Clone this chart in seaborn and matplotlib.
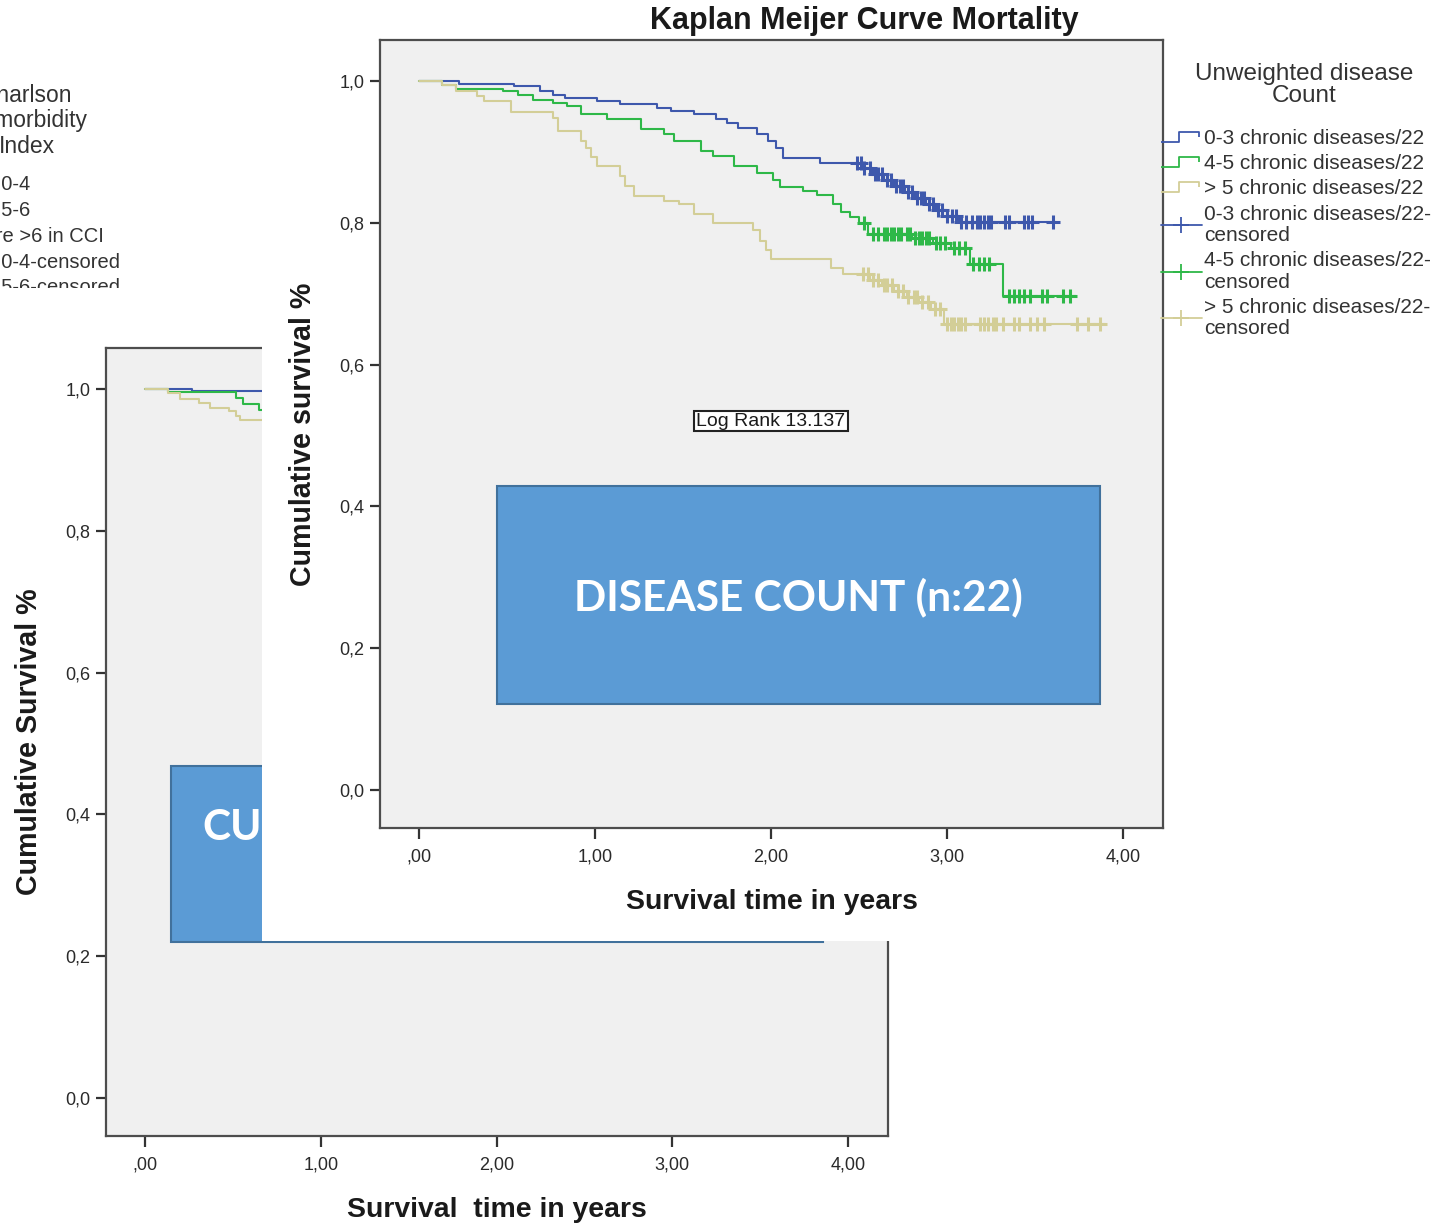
import numpy as np
import matplotlib
matplotlib.use("Agg")
import matplotlib.pyplot as plt
import seaborn as sns
from matplotlib.patches import Rectangle
from matplotlib.lines import Line2D
from matplotlib.path import Path

# ---- data ----
# front chart: Kaplan-Meier by unweighted disease count
blue_t = [0, 0.23, 0.54, 0.69, 0.76, 0.83, 1.01, 1.14, 1.35, 1.43, 1.56, 1.69, 1.75, 1.81, 1.92,
          1.98, 2.03, 2.07, 2.28, 2.52, 2.58, 2.64, 2.70, 2.76, 2.82, 2.88, 2.94, 3.00, 3.07]
blue_s = [1.0, 0.996, 0.993, 0.986, 0.981, 0.976, 0.972, 0.968, 0.962, 0.958, 0.953, 0.947, 0.941, 0.934, 0.925,
          0.915, 0.906, 0.892, 0.884, 0.877, 0.869, 0.861, 0.852, 0.843, 0.835, 0.826, 0.818, 0.810, 0.801]
blue_end = 3.62
blue_cens = [2.49, 2.51, 2.53, 2.56, 2.59, 2.61, 2.63, 2.66, 2.68, 2.71, 2.73, 2.75, 2.78, 2.80, 2.83,
             2.85, 2.87, 2.90, 2.92, 2.95, 2.97, 3.00, 3.03, 3.05, 3.08, 3.11, 3.14, 3.17, 3.19, 3.21,
             3.23, 3.25, 3.33, 3.35, 3.44, 3.46, 3.48, 3.60]

green_t = [0, 0.13, 0.21, 0.48, 0.56, 0.65, 0.76, 0.84, 0.92, 1.07, 1.26, 1.39, 1.45, 1.60, 1.67,
           1.79, 1.92, 2.01, 2.05, 2.18, 2.26, 2.35, 2.40, 2.45, 2.50, 2.55, 2.80, 2.92, 3.02, 3.13, 3.32]
green_s = [1.0, 0.995, 0.989, 0.986, 0.981, 0.974, 0.969, 0.965, 0.953, 0.946, 0.932, 0.925, 0.915, 0.901, 0.894,
           0.880, 0.871, 0.860, 0.850, 0.845, 0.840, 0.826, 0.816, 0.808, 0.800, 0.784, 0.778, 0.771, 0.764, 0.742, 0.697]
green_end = 3.73
green_cens = [2.53, 2.58, 2.61, 2.64, 2.66, 2.68, 2.70, 2.72, 2.74, 2.77, 2.79, 2.82, 2.84, 2.86, 2.88,
              2.90, 2.94, 2.96, 2.99, 3.04, 3.07, 3.10, 3.15, 3.18, 3.21, 3.24, 3.35, 3.38, 3.41, 3.44,
              3.47, 3.54, 3.57, 3.66, 3.70]

tan_t = [0, 0.13, 0.21, 0.33, 0.37, 0.52, 0.76, 0.79, 0.92, 0.95, 0.98, 1.01, 1.14, 1.17, 1.22,
         1.39, 1.48, 1.56, 1.67, 1.90, 1.94, 1.97, 2.00, 2.34, 2.41, 2.56, 2.63, 2.70, 2.77, 2.84, 2.91, 2.98]
tan_s = [1.0, 0.995, 0.986, 0.979, 0.972, 0.957, 0.948, 0.930, 0.915, 0.905, 0.893, 0.880, 0.866, 0.852, 0.838,
         0.831, 0.826, 0.812, 0.800, 0.790, 0.775, 0.762, 0.749, 0.737, 0.728, 0.720, 0.712, 0.704, 0.696, 0.688,
         0.678, 0.657]
tan_end = 3.90
tan_cens = [2.52, 2.55, 2.58, 2.61, 2.64, 2.66, 2.69, 2.72, 2.75, 2.78, 2.81, 2.83, 2.86, 2.89, 2.93,
            2.96, 3.00, 3.02, 3.04, 3.06, 3.08, 3.10, 3.19, 3.21, 3.23, 3.26, 3.28, 3.32, 3.38, 3.41,
            3.47, 3.51, 3.55, 3.74, 3.80, 3.87]

# back chart (Charlson index), only its first stretch is visible
cci_blue_t = [0, 0.27]
cci_blue_s = [1.0, 0.997]
cci_green_t = [0, 0.13, 0.52, 0.56, 0.65]
cci_green_s = [1.0, 0.996, 0.987, 0.979, 0.970]
cci_tan_t = [0, 0.13, 0.20, 0.31, 0.37, 0.48, 0.52, 0.54]
cci_tan_s = [1.0, 0.995, 0.986, 0.981, 0.974, 0.969, 0.962, 0.957]
cci_end = 0.75

legend_title = "Unweighted disease\nCount"
legend_labels = ["0-3 chronic diseases/22", "4-5 chronic diseases/22", "> 5 chronic diseases/22",
                 "0-3 chronic diseases/22-\ncensored", "4-5 chronic diseases/22-\ncensored",
                 "> 5 chronic diseases/22-\ncensored"]
cci_legend_title = "Charlson\nComorbidity\nIndex"
cci_legend_labels = ["CCI 0-4", "CCI 5-6", "Score >6 in CCI", "CCI 0-4-censored", "CCI 5-6-censored"]

x_ticks = [0, 1, 2, 3, 4]
x_ticklabels = [",00", "1,00", "2,00", "3,00", "4,00"]
y_ticks = [0, 0.2, 0.4, 0.6, 0.8, 1.0]
y_ticklabels = ["0,0", "0,2", "0,4", "0,6", "0,8", "1,0"]

colors = ["#3E58AC", "#2EB848", "#D3CE97"]

# ---- layout helpers (pixels of the 1449x1223 picture) ----
W, H = 1449, 1223


def fbox(l, t, r, b):
    return [l / W, 1 - b / H, (r - l) / W, (b - t) / H]


def fxy(x, y):
    return (x / W, 1 - y / H)


sns.set_style("ticks")
plt.rcParams['font.family'] = ['Liberation Sans', 'DejaVu Sans']

fig = plt.figure(figsize=(W / 100, H / 100), dpi=100)
fig.patch.set_facecolor("white")


def km(ax, t, s, end, cens, color, lw=1.5):
    xs = list(t) + [end]
    ys = list(s) + [s[-1]]
    sns.lineplot(x=xs, y=ys, drawstyle="steps-post", color=color, lw=lw, ax=ax,
                 sort=False, estimator=None)
    if cens:
        idx = np.searchsorted(t, cens, side="right") - 1
        cy = np.array(s)[idx]
        sns.scatterplot(x=cens, y=cy, marker="+", s=110, linewidth=2.2, color=color, ax=ax, zorder=4)


def style_axes(ax, ylabel, xlabel):
    ax.set_facecolor("#F0F0F0")
    ax.set_xlim(-0.2216, 4.227)
    ax.set_ylim(-0.0536, 1.058)
    ax.set_xticks(x_ticks, x_ticklabels)
    ax.set_yticks(y_ticks, y_ticklabels)
    for sp in ax.spines.values():
        sp.set_visible(True)
        sp.set_color("#4d4d4d")
        sp.set_linewidth(1.6)
    ax.tick_params(direction="out", bottom=True, left=True, length=7, width=1.6, color="#333333",
                   labelsize=13, labelcolor="#2a2a2a")
    ax.tick_params(axis="x", length=8, pad=7)
    ax.tick_params(axis="y", pad=4)
    ax.set_xlabel(xlabel, fontsize=20.4, fontweight="bold", color="#1a1a1a")
    ax.set_ylabel(ylabel, fontsize=20.6, fontweight="bold", color="#1a1a1a")
    ax.xaxis.set_label_coords(0.5, -0.077)
    ax.yaxis.set_label_coords(-0.081, 0.5)


# ---- back chart ----
ax0 = fig.add_axes(fbox(106, 348, 888, 1136), zorder=1)
km(ax0, cci_blue_t, cci_blue_s, cci_end, None, colors[0])
km(ax0, cci_green_t, cci_green_s, cci_end, None, colors[1])
km(ax0, cci_tan_t, cci_tan_s, cci_end, None, colors[2])
style_axes(ax0, "Cumulative Survival %", "Survival  time in years")

fig.add_artist(Rectangle(fxy(171, 942), (823 - 171) / W, (942 - 766) / H, transform=fig.transFigure,
                         fc="#5B9BD5", ec="#41719C", lw=1.5, zorder=1.5))
fig.text(*fxy(202, 828), "CU", color="white", fontsize=30.5, fontweight="bold", ha="left", va="center",
         family=["Lato", "DejaVu Sans"], zorder=1.6)

fig.text(*fxy(27, 121), cci_legend_title, fontsize=16.5, ha="center", va="center", color="#333333",
         linespacing=1.12, zorder=1.6)
for i, lab in enumerate(cci_legend_labels):
    fig.text(*fxy(-39, 185 + i * 25.7), lab, fontsize=14.5, ha="left", va="center", color="#333333",
             zorder=1.6)
# white gap between the legend crop and the back chart
fig.add_artist(Rectangle(fxy(0, 346), 262 / W, (346 - 288) / H, transform=fig.transFigure,
                         fc="white", ec="none", zorder=1.7))

# ---- front panel ----
fig.add_artist(Rectangle(fxy(262, 941), (W - 262) / W, 941 / H, transform=fig.transFigure,
                         fc="white", ec="none", zorder=2))

ax1 = fig.add_axes(fbox(380, 40, 1163, 828), zorder=3)
km(ax1, blue_t, blue_s, blue_end, blue_cens, colors[0])
km(ax1, green_t, green_s, green_end, green_cens, colors[1])
km(ax1, tan_t, tan_s, tan_end, tan_cens, colors[2])
style_axes(ax1, "Cumulative survival %", "Survival time in years")

fig.text(*fxy(864, 21), "Kaplan Meijer Curve Mortality", fontsize=22, fontweight="bold", ha="center",
         va="center", color="#1a1a1a", zorder=5)

fig.text(*fxy(771, 421), "Log Rank 13.137", fontsize=14, ha="center", va="center", color="#1a1a1a",
         bbox=dict(boxstyle="square,pad=0.1", fc="white", ec="#222222", lw=1.5), zorder=5)

fig.add_artist(Rectangle(fxy(497, 704), (1100 - 497) / W, (704 - 486) / H, transform=fig.transFigure,
                         fc="#5B9BD5", ec="#41719C", lw=1.5, zorder=4))
fig.text(*fxy(798, 597), "DISEASE COUNT (n:22)", color="white", fontsize=30.5, fontweight="bold",
         ha="center", va="center", family=["Lato", "DejaVu Sans"], zorder=5)

# legend of the front chart
fig.text(*fxy(1304, 85), legend_title, fontsize=17.5, ha="center", va="center", color="#333333",
         linespacing=1.0, zorder=5)
step_glyph = Path([(-1, -0.25), (-0.1, -0.25), (-0.1, 0.25), (0.9, 0.25), (0.9, 0.0)])
handles = [Line2D([], [], color=c, marker=step_glyph, markersize=29, mew=1.3, mfc="none", ls="none")
           for c in colors]
handles += [Line2D([], [], color=c, marker="+", markersize=11, mew=1.3, lw=1.3) for c in colors]
leg = ax1.legend(handles, legend_labels, loc="upper left",
                 bbox_to_anchor=fxy(1161, 129), bbox_transform=fig.transFigure, frameon=False,
                 fontsize=15, handlelength=1.95, handletextpad=0.12,
                 labelspacing=0.3, borderpad=0, borderaxespad=0)
for t in leg.get_texts():
    t.set_color("#333333")
    t.set_linespacing(1.15)

fig.savefig("out.png", dpi=100)
